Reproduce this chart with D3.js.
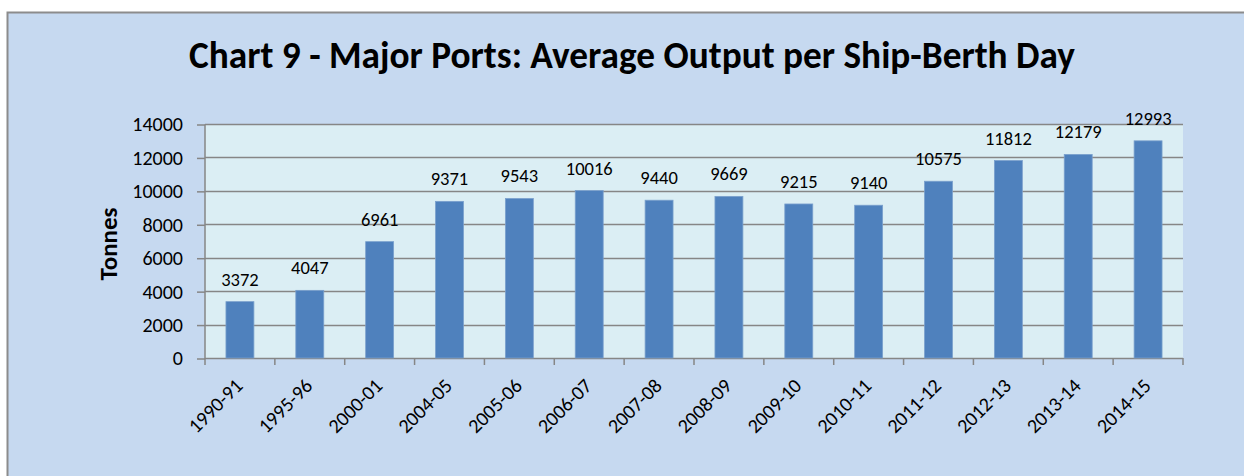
<!DOCTYPE html>
<html>
<head>
<meta charset="utf-8">
<script src="https://cdn.jsdelivr.net/npm/d3@7"></script>
<style>
  body { margin: 0; background: #fff; }
  text { font-family: Carlito, "Open Sans", "Noto Sans", sans-serif; }
</style>
</head>
<body>
<svg id="chart"></svg>
<script>
"use strict";

// chart data
const years = ["1990-91", "1995-96", "2000-01", "2004-05", "2005-06", "2006-07", "2007-08",
  "2008-09", "2009-10", "2010-11", "2011-12", "2012-13", "2013-14", "2014-15"];
const output = [3372, 4047, 6961, 9371, 9543, 10016, 9440, 9669, 9215, 9140, 10575, 11812, 12179, 12993];
const yTicks = [0, 2000, 4000, 6000, 8000, 10000, 12000, 14000];

const w = 1244;
const h = 476;
const plot = { left: 205, right: 1183, top: 124, bottom: 358 };

const svg = d3.select("#chart").attr("width", w).attr("height", h);

// outer chart frame
svg.append("rect")
  .attr("x", 7.5).attr("y", 12.5)
  .attr("width", w).attr("height", h)
  .attr("fill", "#c6d9f0")
  .attr("stroke", "#8c8c8c")
  .attr("stroke-width", 2);

svg.append("text")
  .attr("x", 632).attr("y", 68)
  .attr("text-anchor", "middle")
  .attr("font-size", 37.3)
  .attr("font-weight", "bold")
  .text("Chart 9 - Major Ports: Average Output per Ship-Berth Day");

const xScale = d3.scaleBand()
  .domain(years)
  .range([plot.left, plot.right])
  .paddingInner(0.6)
  .paddingOuter(0.3);

const yScale = d3.scaleLinear()
  .domain([0, 14000])
  .range([plot.bottom, plot.top]);

// plot area
svg.append("rect")
  .attr("x", plot.left).attr("y", plot.top)
  .attr("width", plot.right - plot.left)
  .attr("height", plot.bottom - plot.top)
  .attr("fill", "#dbeef4");

// gridlines
svg.append("g")
  .selectAll("line")
  .data(yTicks.slice(1))
  .join("line")
  .attr("x1", plot.left).attr("x2", plot.right)
  .attr("y1", (d) => Math.round(yScale(d)) + 0.5)
  .attr("y2", (d) => Math.round(yScale(d)) + 0.5)
  .attr("stroke", "#868686")
  .attr("stroke-width", 1.5);

// y axis
const yAxisG = svg.append("g")
  .attr("transform", `translate(${plot.left}, 0.5)`)
  .call(d3.axisLeft(yScale).tickValues(yTicks).tickFormat(d3.format("d")).tickSize(8).tickPadding(14));
yAxisG.selectAll("text").attr("font-size", 20).attr("fill", "#000");
yAxisG.selectAll("line, path").attr("stroke", "#868686").attr("stroke-width", 1.5);
yAxisG.select(".domain").attr("d", `M0,${plot.top}V${plot.bottom}`);

svg.append("text")
  .attr("transform", `translate(117, 244) rotate(-90)`)
  .attr("text-anchor", "middle")
  .attr("font-size", 25)
  .attr("font-weight", "bold")
  .text("Tonnes");

// x axis: ticks at category boundaries
const step = xScale.step();
const bounds = d3.range(years.length + 1).map((i) => plot.left + i * step);
svg.append("line")
  .attr("x1", plot.left).attr("x2", plot.right)
  .attr("y1", plot.bottom + 0.5).attr("y2", plot.bottom + 0.5)
  .attr("stroke", "#868686").attr("stroke-width", 1.5);
svg.append("g")
  .selectAll("line")
  .data(bounds)
  .join("line")
  .attr("x1", (d) => d).attr("x2", (d) => d)
  .attr("y1", plot.bottom).attr("y2", plot.bottom + 7)
  .attr("stroke", "#868686").attr("stroke-width", 1.5);

svg.append("g")
  .selectAll("text")
  .data(years)
  .join("text")
  .attr("transform", (d) => `translate(${xScale(d) + xScale.bandwidth() / 2 + 4}, ${plot.bottom + 29}) rotate(-45)`)
  .attr("text-anchor", "end")
  .attr("font-size", 20)
  .text((d) => d);

// bars
svg.append("g")
  .selectAll("rect")
  .data(years)
  .join("rect")
  .attr("x", (d) => xScale(d))
  .attr("y", (d, i) => yScale(output[i]))
  .attr("width", xScale.bandwidth())
  .attr("height", (d, i) => plot.bottom - yScale(output[i]))
  .attr("fill", "#4f81bd")
  .attr("stroke", "#7aa0cd")
  .attr("stroke-width", 0.8);

// value labels
svg.append("g")
  .selectAll("text")
  .data(years)
  .join("text")
  .attr("x", (d) => xScale(d) + xScale.bandwidth() / 2)
  .attr("y", (d, i) => yScale(output[i]) - 16)
  .attr("text-anchor", "middle")
  .attr("font-size", 18.5)
  .text((d, i) => output[i]);
</script>
</body>
</html>
